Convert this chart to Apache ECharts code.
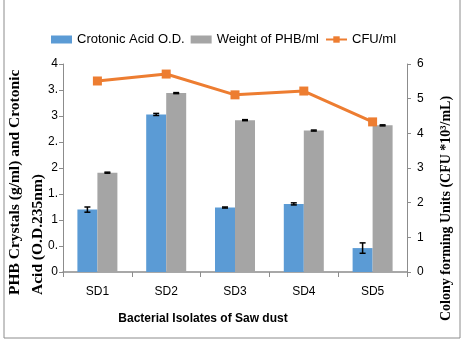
<!DOCTYPE html>
<html>
<head>
<meta charset="utf-8">
<script src="https://cdn.jsdelivr.net/npm/echarts@6/dist/echarts.min.js"></script>
<style>html,body{margin:0;padding:0;background:#fff}#chart{width:467px;height:345px}</style>
</head>
<body>
<div id="chart"></div>
<script>
// Saw dust isolates: crotonic acid, PHB weight and colony counts
var categories = ['SD1', 'SD2', 'SD3', 'SD4', 'SD5'];
var crotonicAcid = [1.20, 3.03, 1.24, 1.31, 0.46];
var crotonicErr = [0.05, 0.02, 0.01, 0.02, 0.10];
var phbWeight = [1.91, 3.44, 2.92, 2.72, 2.82];
var phbErr = [0.01, 0.01, 0.01, 0.01, 0.01];
var cfu = [5.51, 5.71, 5.11, 5.22, 4.33];
var leftTicks = ['0', '0.', '1', '1.', '2', '2.', '3', '3.', '4'];
var rightTicks = ['0', '1', '2', '3', '4', '5', '6'];

var BAR_W = 20;
var axisGray = '#8c8c8c';

function errorData(vals, errs, offset) {
  return vals.map(function (v, i) { return [i, v, errs[i], offset]; });
}

function renderError(params, api) {
  var x = api.coord([api.value(0), 0])[0] + api.value(3);
  var hi = api.coord([api.value(0), api.value(1) + api.value(2)])[1];
  var lo = api.coord([api.value(0), api.value(1) - api.value(2)])[1];
  var st = { stroke: '#000', lineWidth: 1.5 };
  return {
    type: 'group',
    children: [
      { type: 'line', shape: { x1: x, y1: hi, x2: x, y2: lo }, style: st },
      { type: 'line', shape: { x1: x - 3, y1: hi, x2: x + 3, y2: hi }, style: st },
      { type: 'line', shape: { x1: x - 3, y1: lo, x2: x + 3, y2: lo }, style: st }
    ]
  };
}

var chart = echarts.init(document.getElementById('chart'));
chart.setOption({
  animation: false,
  backgroundColor: '#fff',
  graphic: [
    { type: 'rect', shape: { x: 4, y: -5, width: 456, height: 343 },
      style: { fill: 'none', stroke: '#8c8c8c', lineWidth: 1 }, silent: true },
    { type: 'text', x: 3, y: 295, rotation: Math.PI / 2,
      style: { text: 'PHB Crystals (g/ml) and Crotonic\nAcid (O.D.235nm)',
        font: 'bold 15.5px "Liberation Serif"', fill: '#000',
        align: 'left', verticalAlign: 'top', lineHeight: 23 } },
    { type: 'text', x: 437, y: 321, rotation: Math.PI / 2,
      style: { text: 'Colony forming Units (CFU *10\u00b3/mL)',
        font: 'bold 14px "Liberation Serif"', fill: '#000',
        align: 'left', verticalAlign: 'top', lineHeight: 18 } },
    { type: 'text', x: 203, y: 319,
      style: { text: 'Bacterial Isolates of Saw dust',
        font: 'bold 12px "Liberation Sans"', fill: '#000',
        align: 'center', verticalAlign: 'middle' } }
  ],
  legend: {
    left: 46, top: 28,
    itemWidth: 21, itemHeight: 8, itemGap: 6,
    textStyle: { fontFamily: 'Liberation Sans', fontSize: 13, color: '#000' },
    data: [
      { name: 'Crotonic Acid O.D.', icon: 'rect' },
      { name: 'Weight of PHB/ml', icon: 'rect' },
      { name: 'CFU/ml' }
    ]
  },
  grid: { left: 63, right: 60, top: 64, bottom: 73 },
  xAxis: {
    type: 'category',
    data: categories,
    axisLine: { lineStyle: { color: axisGray, width: 1.5 } },
    axisTick: { show: true, length: 5, lineStyle: { color: axisGray } },
    axisLabel: { color: '#000', fontFamily: 'Liberation Sans', fontSize: 12, margin: 14 }
  },
  yAxis: [
    {
      type: 'value', min: 0, max: 4, interval: 0.5,
      splitLine: { show: false },
      axisLine: { show: true, lineStyle: { color: axisGray } },
      axisTick: { show: true, length: 4, lineStyle: { color: axisGray } },
      axisLabel: {
        color: '#000', fontFamily: 'Liberation Sans', fontSize: 12, margin: 5,
        formatter: function (v) { return leftTicks[Math.round(v * 2)]; }
      }
    },
    {
      type: 'value', min: 0, max: 6, interval: 1,
      splitLine: { show: false },
      axisLine: { show: true, lineStyle: { color: axisGray } },
      axisTick: { show: true, length: 4, lineStyle: { color: axisGray } },
      axisLabel: {
        color: '#000', fontFamily: 'Liberation Sans', fontSize: 12, margin: 10,
        formatter: function (v) { return rightTicks[Math.round(v)]; }
      }
    }
  ],
  series: [
    { name: 'Crotonic Acid O.D.', type: 'bar', data: crotonicAcid, barWidth: BAR_W, barGap: '0%',
      itemStyle: { color: '#5b9bd5' } },
    { name: 'Weight of PHB/ml', type: 'bar', data: phbWeight, barWidth: BAR_W, barGap: '0%',
      itemStyle: { color: '#a5a5a5' } },
    { name: 'crotonic-error', type: 'custom', renderItem: renderError,
      data: errorData(crotonicAcid, crotonicErr, -BAR_W / 2), z: 5 },
    { name: 'phb-error', type: 'custom', renderItem: renderError,
      data: errorData(phbWeight, phbErr, BAR_W / 2), z: 5 },
    { name: 'CFU/ml', type: 'line', yAxisIndex: 1, data: cfu,
      symbol: 'rect', symbolSize: 9,
      lineStyle: { color: '#ed7d31', width: 3 },
      itemStyle: { color: '#ed7d31' }, z: 6 }
  ]
});
</script>
</body>
</html>
